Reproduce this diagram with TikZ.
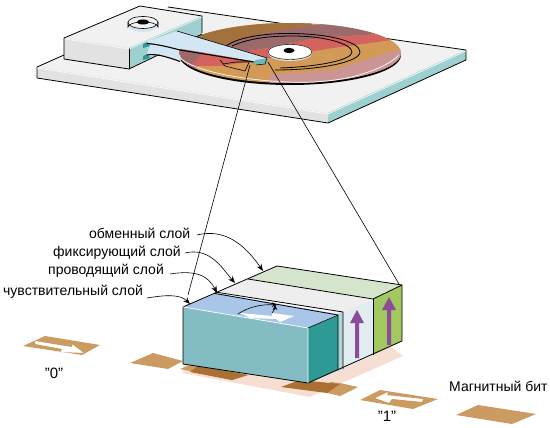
\documentclass[tikz,border=0pt]{standalone}
\usepackage{fontspec}
\setmainfont{Liberation Sans}
\usetikzlibrary{arrows.meta}
\definecolor{tealside}{HTML}{9FD0D0}
\definecolor{greyfront}{HTML}{E2E2E2}
\definecolor{greytop}{HTML}{F1F1F1}
\definecolor{armblue}{HTML}{D3E6F4}
\definecolor{dbrown}{HTML}{A3713B}
\definecolor{dmauve}{HTML}{9C6A6A}
\definecolor{dred}{HTML}{D4625F}
\definecolor{dorange}{HTML}{D29A56}
\definecolor{dpink}{HTML}{CB9596}
\definecolor{bittan}{HTML}{CB9B62}
\definecolor{bitdark}{HTML}{A96F33}
\definecolor{shadowp}{HTML}{F6DFD2}
\definecolor{frontteal}{HTML}{83BDC3}
\definecolor{sideteal}{HTML}{2F9A95}
\definecolor{topblue}{HTML}{A9C6E8}
\definecolor{condside}{HTML}{B5D6D6}
\definecolor{fixside}{HTML}{E1EDF1}
\definecolor{fixtop}{HTML}{EEEEEE}
\definecolor{extop}{HTML}{D5E5CB}
\definecolor{exside}{HTML}{A1C95F}
\definecolor{purp}{HTML}{8B4C99}
\tikzset{
  x=1pt,y=-1pt,
  edge/.style={draw=black,line width=.8pt,line join=round},
  leader/.style={draw=black,line width=.6pt,-{Stealth[length=7pt,width=5.5pt]}},
  ray/.style={draw=black,line width=.6pt},
  label/.style={font=\fontsize{14}{16}\selectfont,inner sep=0pt,anchor=west},
  bitlabel/.style={font=\fontsize{15}{17}\selectfont,inner sep=0pt},
  fatup/.style={draw=none,fill=purp},
}
\begin{document}
\begin{tikzpicture}
\useasboundingbox (0,0) rectangle (550,428);
% base plate
\fill[greytop] (37,67)--(168,7)--(466,50)--(328,113)--cycle;
\fill[greyfront] (37,67)--(328,113)--(328,123)--(37,78)--cycle;
\fill[tealside] (328,113)--(466,50)--(466,60)--(328,123)--cycle;
\draw[edge] (37,78)--(37,67)--(64,55);
\draw[edge] (168,7)--(466,50)--(466,60);
\draw[edge] (37,78)--(328,123)--(466,60);
\draw[white,line width=.6pt] (37,68)--(328,114)--(466,51);
% disc
\fill[black] (290,55) ellipse[x radius=111pt,y radius=30pt];
\begin{scope}
\clip (290,53) ellipse[x radius=111pt,y radius=30pt];
\fill[dorange] (170,10) rectangle (410,90);
\fill[dpink] (405,48)--(405,90)--(267,90)--(270,75)--(333,70)--cycle;
\fill[dbrown] (170,10)--(312,10)--(312,25)--(260,34)--(223,45)--(170,45)--cycle;
\fill[dmauve] (223,45)--(260,34)--(312,25)--(360,22)--(380,34)--(317,38)--(268,48)--(230,54)--cycle;
\fill[dred] (230,54)--(268,48)--(317,38)--(380,34)--(392,40)--(333,48)--(258,60)--(222,66)--cycle;
\fill[dmauve] (170,40)--(205,48)--(197,68)--(170,68)--cycle;
\fill[dred] (205,48)--(240,55)--(250,60)--(222,66)--(190,66)--(197,60)--cycle;
\end{scope}
\draw[white,line width=.7pt] (180,58) .. controls (200,76) and (280,85) .. (320,81.5) .. controls (360,79) and (390,65) .. (399,55);
% tracks
\draw[black,line width=.8pt] (226,46) .. controls (240,36) and (270,33) .. (293,33.5) .. controls (330,34) and (360,42) .. (360,52) .. controls (360,62) and (320,70) .. (275,70);
\draw[black,line width=.8pt] (232,46) .. controls (250,38) and (270,36) .. (293,36) .. controls (325,36) and (352,44) .. (352,52) .. controls (352,60) and (320,66.5) .. (280,68);
% hole
\fill[greyfront] (290,53.5) ellipse[x radius=22pt,y radius=7.5pt];
\fill[white] (290,51.5) ellipse[x radius=22pt,y radius=7pt];
\draw[black,line width=.4pt] (290,52) ellipse[x radius=22pt,y radius=7.5pt];
\fill[black] (289,50.5) ellipse[x radius=5.5pt,y radius=2.6pt];
% marks under the arm
\draw[black,line width=.6pt] (220,60)--(225,66)--(245,71)--(251,58);
\draw[black,line width=.6pt] (223,64)--(236,62)--(248,62);
% head block
\fill[greytop] (64,38)--(140,6)--(202,16)--(129,48)--cycle;
\fill[greyfront] (64,38)--(129,48)--(129,69)--(64,59)--cycle;
\fill[tealside] (129,48)--(202,16)--(202,33)--(129,69)--cycle;
\draw[edge] (64,59)--(64,38)--(140,6)--(202,16)--(202,33);
\draw[edge] (64,59)--(129,69)--(202,34);
\draw[edge] (129,48)--(129,69);
\draw[white,line width=.5pt] (65,39)--(129,49)--(202,17);
% spindle on block
\fill[armblue] (143,25) ellipse[x radius=15pt,y radius=7pt];
\fill[greytop] (143,22.5) ellipse[x radius=15pt,y radius=6pt];
\draw[black,line width=.6pt] (128,22)--(128,27) arc[start angle=180,end angle=360,x radius=15pt,y radius=-5pt]--(158,22);
\draw[black,line width=.6pt] (143,22.5) ellipse[x radius=15pt,y radius=6pt];
\fill[black] (143,22) ellipse[x radius=6pt,y radius=2.5pt];
% arms
\fill[armblue] (143,55)--(160,51)--(180,55)--(180,61)--(160,54.5)--(147,56)--cycle;
\fill[armblue] (143,43)--(177,31)--(267,58)--(263,63)--(207,53)--(163,46)--(148,43)--cycle;
\fill[armblue] (150,45)--(175,46)--(182,60)--(160,54)--(146,56)--cycle;
\fill[sideteal] (143,44)--(147,42)--(150,46)--(143,48)--cycle;
\fill[sideteal] (143,56)--(147,54)--(150,58)--(143,60)--cycle;
\draw[black,line width=1.1pt] (147,43.5) .. controls (155,44) and (165,46) .. (180,50) -- (263,63.5);
\draw[black,line width=1.1pt] (147,55) .. controls (155,53.5) and (165,56) .. (180,61.5);
\draw[black,line width=.6pt] (177,31)--(267,58);
\fill[sideteal!70!white] (253,62)--(256,60)--(268,58)--(266,64)--(256,65)--cycle;
\draw[black,line width=.5pt] (267,58)--(265,64)--(256,65);
% shadow + bits
\fill[shadowp] (182,373)--(310,397)--(403,356)--(390,346)--(300,340)--(185,360)--cycle;
\fill[bittan] (130,363)--(153,353)--(183,361)--(168,369)--cycle;
\fill[bittan] (180,369)--(193,364)--(248,375)--(232,380)--cycle;
\fill[bitdark] (190,372)--(198,366)--(248,375)--(232,380)--cycle;
\fill[bittan] (330,382)--(340,383)--(358,387)--(340,396)--(327,393)--cycle;
\fill[bitdark] (281,387)--(300,380)--(340,384)--(327,393)--cycle;
\fill[bittan,even odd rule] (23,346)--(45,336)--(100,345)--(82,355)--cycle
  (35,341)--(72,347)--(72,344)--(84,353)--(60,352)--(62,349)--(35,344)--cycle;
\fill[bittan,even odd rule] (360,400)--(380,390)--(438,399)--(413,409)--cycle
  (375,398)--(388,392)--(387,395)--(423,399)--(422,402)--(392,399)--(389,403)--cycle;
\fill[bittan] (456,415)--(478,405)--(536,414)--(512,424)--cycle;
% layered block
\fill[extop] (248,279)--(277,266)--(402,285)--(373,299)--cycle;
\fill[exside] (373,299)--(402,285)--(402,341)--(373,355)--cycle;
\fill[fixtop] (218,292)--(248,279)--(373,299)--(343,313)--cycle;
\fill[fixside] (343,313)--(373,299)--(373,355)--(343,369)--cycle;
\fill[condside] (338,313)--(343,312)--(343,369)--(338,371)--cycle;
\fill[frontteal] (183,307)--(308,328)--(308,383)--(183,364)--cycle;
\fill[sideteal] (308,328)--(338,315)--(338,370)--(308,383)--cycle;
\fill[topblue] (183,307)--(215,293)--(338,314)--(308,328)--cycle;
\draw[edge] (183,307)--(183,364)--(308,383)--(402,341)--(402,285)--(277,266)--(183,307);
\draw[edge] (248,279)--(373,299)--(402,285);
\draw[edge] (373,299)--(373,355);
\draw[edge] (215,292)--(343,312)--(343,369);
\draw[edge] (215,293.5)--(338,315)--(338,370);
\draw[white,line width=.7pt] (183,307)--(308,328)--(308,383);
\draw[black,line width=.6pt] (308,328)--(338,315);
% purple arrows
\fill[fatup] (355,358)--(359,358)--(359,323)--(364,323)--(357,310)--(350,323)--(355,323)--cycle;
\fill[fatup] (387,345)--(391,345)--(391,310)--(396,310)--(389,297)--(382,310)--(387,310)--cycle;
% white arrow on top + arcs
\fill[white] (240,313)--(272,316)--(272,313)--(294,316)--(280,322)--(276,319)--(250,318)--cycle;
\coordinate (arcA) at (238,314);
\coordinate (arcB) at (277,305);
\coordinate (arcC) at (272,313);
\draw[black,line width=.6pt,-{Stealth[length=5pt,width=4.5pt]}] (arcA) .. controls (248,307) and (262,304) .. (arcB);
\draw[black,line width=.6pt,-{Stealth[length=5pt,width=4.5pt]}] (arcC) .. controls (274,311) and (275,308) .. (275,305);
% rays
\coordinate (headL) at (250,65);
\coordinate (headR) at (268,62);
\coordinate (rayL) at (188,295);
\coordinate (rayR) at (399,284);
\draw[ray] (headL)--(rayL);
\draw[ray] (headR)--(rayR);
% labels
\node[label] (lex) at (89,233) {обменный слой};
\node[label] (lfix) at (53,253) {фиксирующий слой};
\node[label] (lcon) at (48,271) {проводящий слой};
\node[label] (lsen) at (3,292) {чувствительный слой};
\coordinate (tex) at (263,271);
\coordinate (tfix) at (235,283);
\coordinate (tcon) at (217,293);
\coordinate (tsen) at (190,304);
\draw[leader] (197,235) .. controls (225,228) and (245,245) .. (tex);
\draw[leader] (185,253) .. controls (210,247) and (222,268) .. (tfix);
\draw[leader] (170,274) .. controls (195,270) and (208,275) .. (tcon);
\draw[leader] (147,298) .. controls (165,295) and (180,294) .. (tsen);
\node[bitlabel] (zero) at (54,373) {"0"};
\node[bitlabel] (one) at (387,416) {"1"};
\node[label] (mbit) at (449,386) {Магнитный бит};
\end{tikzpicture}
\end{document}
